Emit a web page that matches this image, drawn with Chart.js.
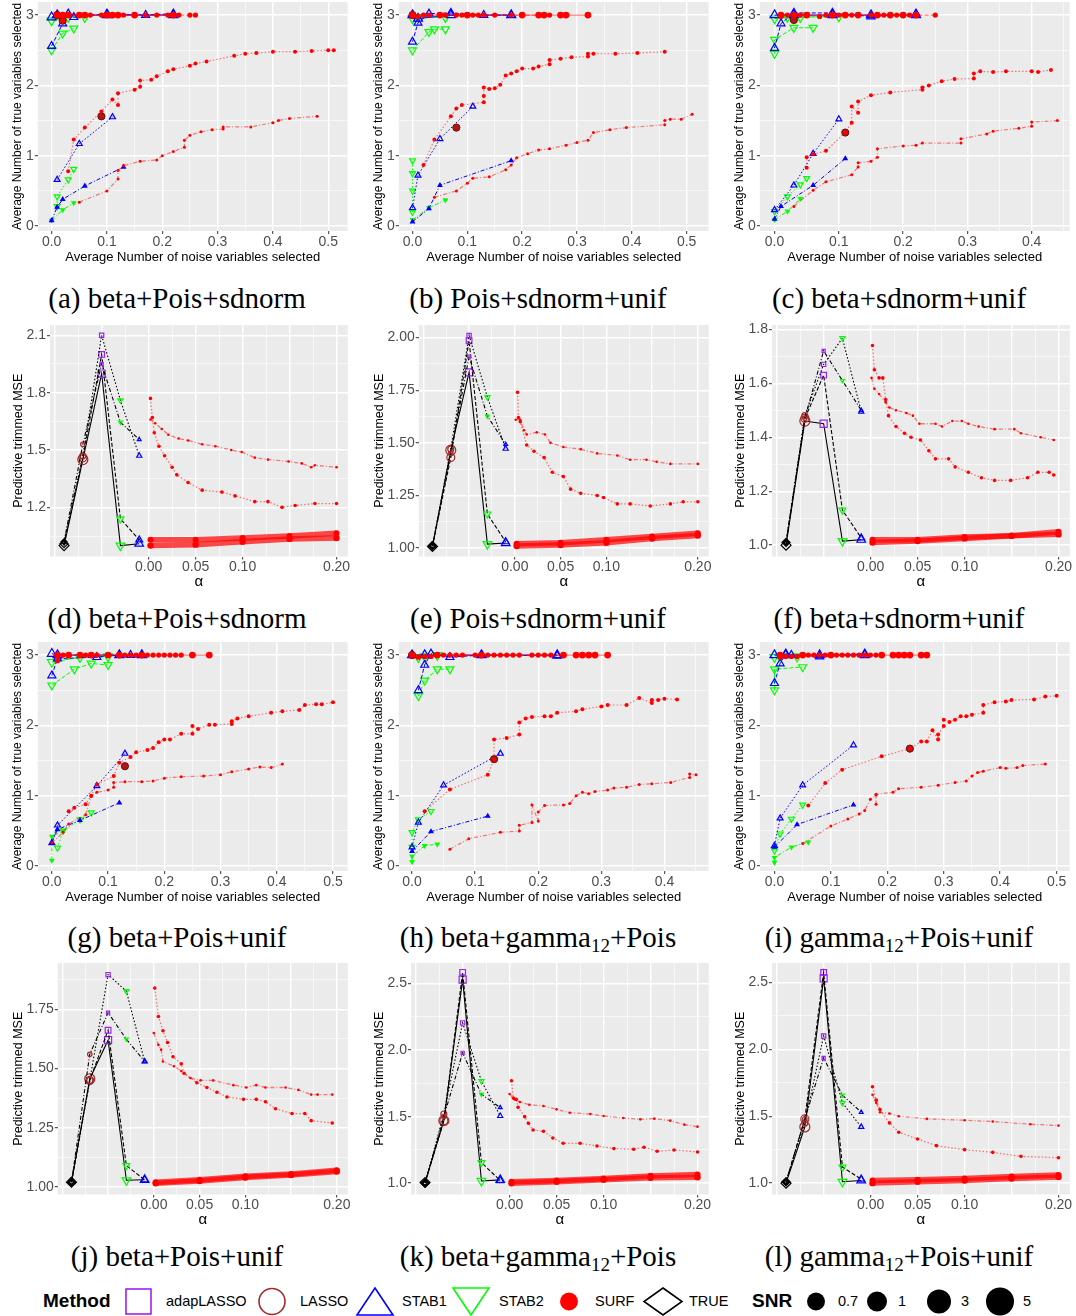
<!DOCTYPE html>
<html>
<head>
<meta charset="utf-8">
<script src="https://cdn.jsdelivr.net/npm/chart.js@4"></script>
<style>
  body { margin: 0; background: #fff; width: 1076px; height: 1316px; position: relative; overflow: hidden;
         font-family: "Liberation Sans", Arial, sans-serif; }
  .panel { position: absolute; width: 354px; height: 271px; }
  .cap { position: absolute; width: 354px; text-align: center; font-family: "Liberation Serif", "Times New Roman", serif;
         font-size: 29px; line-height: 30px; color: #000; }
  .cap sub { font-size: 19px; line-height: 0; vertical-align: -5px; }
  #legend { position: absolute; left: 0; top: 1287px; width: 1076px; height: 29px; }
  #legend span { position: absolute; top: 6px; font-size: 14.5px; line-height: 17px; color: #000; }
  #legend span.head { top: 3px; font-size: 19px; line-height: 22px; font-weight: bold; }
  #legend svg { position: absolute; top: 0; }
</style>
</head>
<body>

<canvas id="pa" class="panel" width="354" height="271" style="left:0;top:-6px"></canvas>
<canvas id="pb" class="panel" width="354" height="271" style="left:361px;top:-6px"></canvas>
<canvas id="pc" class="panel" width="354" height="271" style="left:722px;top:-6px"></canvas>
<div class="cap" style="left:0;top:283px">(a) beta+Pois+sdnorm</div>
<div class="cap" style="left:361px;top:283px">(b) Pois+sdnorm+unif</div>
<div class="cap" style="left:722px;top:283px">(c) beta+sdnorm+unif</div>

<canvas id="pd" class="panel" width="354" height="271" style="left:0;top:317px"></canvas>
<canvas id="pe" class="panel" width="354" height="271" style="left:361px;top:317px"></canvas>
<canvas id="pf" class="panel" width="354" height="271" style="left:722px;top:317px"></canvas>
<div class="cap" style="left:0;top:603px">(d) beta+Pois+sdnorm</div>
<div class="cap" style="left:361px;top:603px">(e) Pois+sdnorm+unif</div>
<div class="cap" style="left:722px;top:603px">(f) beta+sdnorm+unif</div>

<canvas id="pg" class="panel" width="354" height="271" style="left:0;top:634px"></canvas>
<canvas id="ph" class="panel" width="354" height="271" style="left:361px;top:634px"></canvas>
<canvas id="pi" class="panel" width="354" height="271" style="left:722px;top:634px"></canvas>
<div class="cap" style="left:0;top:922px">(g) beta+Pois+unif</div>
<div class="cap" style="left:361px;top:922px">(h) beta+gamma<sub>12</sub>+Pois</div>
<div class="cap" style="left:722px;top:922px">(i) gamma<sub>12</sub>+Pois+unif</div>

<canvas id="pj" class="panel" width="354" height="271" style="left:0;top:955px"></canvas>
<canvas id="pk" class="panel" width="354" height="271" style="left:361px;top:955px"></canvas>
<canvas id="pl" class="panel" width="354" height="271" style="left:722px;top:955px"></canvas>
<div class="cap" style="left:0;top:1241px">(j) beta+Pois+unif</div>
<div class="cap" style="left:361px;top:1241px">(k) beta+gamma<sub>12</sub>+Pois</div>
<div class="cap" style="left:722px;top:1241px">(l) gamma<sub>12</sub>+Pois+unif</div>

<div id="legend">
  <span class="head" style="left:43px">Method</span>
  <svg style="left:124px" width="30" height="29"><rect x="2" y="2" width="25" height="25" fill="none" stroke="#A020F0" stroke-width="1.6"/></svg>
  <span style="left:166px">adapLASSO</span>
  <svg style="left:257px" width="31" height="29"><circle cx="15" cy="14.5" r="13" fill="none" stroke="#A52A2A" stroke-width="1.6"/></svg>
  <span style="left:300px">LASSO</span>
  <svg style="left:355px" width="40" height="29"><polygon points="20,1 38,28 2,28" fill="none" stroke="#0000FF" stroke-width="1.6"/></svg>
  <span style="left:402px">STAB1</span>
  <svg style="left:451px" width="40" height="29"><polygon points="2,1 38,1 20,28" fill="none" stroke="#00FF00" stroke-width="1.6"/></svg>
  <span style="left:499px">STAB2</span>
  <svg style="left:558px" width="22" height="29"><circle cx="11" cy="14.5" r="9" fill="#FF0000"/></svg>
  <span style="left:595px">SURF</span>
  <svg style="left:642px" width="42" height="29"><polygon points="21,1 40,14.5 21,28 2,14.5" fill="none" stroke="#000" stroke-width="1.6"/></svg>
  <span style="left:689px">TRUE</span>
  <span class="head" style="left:752px">SNR</span>
  <svg style="left:805px" width="22" height="29"><circle cx="11" cy="14.5" r="9" fill="#000"/></svg>
  <span style="left:838px">0.7</span>
  <svg style="left:866px" width="22" height="29"><circle cx="11" cy="14.5" r="10" fill="#000"/></svg>
  <span style="left:898px">1</span>
  <svg style="left:926px" width="26" height="29"><circle cx="13" cy="14.5" r="12" fill="#000"/></svg>
  <span style="left:961px">3</span>
  <svg style="left:985px" width="30" height="29"><circle cx="15" cy="14.5" r="14" fill="#000"/></svg>
  <span style="left:1023px">5</span>
</div>

<script>
// ---------- shared categories ----------
const snrLevels = [0.7, 1, 3, 5];
const methodNames = ['TRUE', 'LASSO', 'adapLASSO', 'STAB2', 'STAB1'];
const methodPos = [-0.09, -0.07, -0.05, -0.03, -0.01];

// ---------- tick values / labels ----------
const selYTicks = [0, 1, 2, 3];
const selYLabels = ['0', '1', '2', '3'];
const selYMinor = [0.5, 1.5, 2.5];
const selXTicks = [0, 0.1, 0.2, 0.3, 0.4, 0.5];
const selXLabels = ['0.0', '0.1', '0.2', '0.3', '0.4', '0.5'];
const selXMinor = [0.05, 0.15, 0.25, 0.35, 0.45];

const alphaTicks = [-0.1, -0.05, 0, 0.05, 0.1, 0.15, 0.2];
const alphaLabels = ['', '', '0.00', '0.05', '0.10', '', '0.20'];
const alphaMinor = [-0.075, -0.025, 0.025, 0.075, 0.125, 0.175];

const dYTicks = [1.2, 1.5, 1.8, 2.1];
const dYLabels = ['1.2', '1.5', '1.8', '2.1'];
const dYMinor = [1.05, 1.35, 1.65, 1.95];
const eYTicks = [1, 1.25, 1.5, 1.75, 2];
const eYLabels = ['1.00', '1.25', '1.50', '1.75', '2.00'];
const eYMinor = [1.125, 1.375, 1.625, 1.875];
const fYTicks = [1, 1.2, 1.4, 1.6, 1.8];
const fYLabels = ['1.0', '1.2', '1.4', '1.6', '1.8'];
const fYMinor = [1.1, 1.3, 1.5, 1.7];
const jYTicks = [1, 1.25, 1.5, 1.75];
const jYLabels = ['1.00', '1.25', '1.50', '1.75'];
const jYMinor = [1.125, 1.375, 1.625, 1.875];
const kYTicks = [1, 1.5, 2, 2.5];
const kYLabels = ['1.0', '1.5', '2.0', '2.5'];
const kYMinor = [1.25, 1.75, 2.25];

// ---------- selection panels: [noise, true] per SNR (0.7, 1, 3, 5) ----------
// (a) beta+Pois+sdnorm
const aSurf = [
  [[0.05,0.34],[0.1,0.5],[0.12,0.67],[0.12,0.79],[0.13,0.86],[0.16,0.92],[0.19,0.94],[0.2,1.0],[0.22,1.06],[0.24,1.12],[0.24,1.22],[0.25,1.29],[0.27,1.34],[0.29,1.37],[0.31,1.38],[0.31,1.41],[0.36,1.41],[0.4,1.47],[0.41,1.5],[0.43,1.53],[0.48,1.56]],
  [[0.03,0.78],[0.04,1.23],[0.06,1.4],[0.09,1.63],[0.11,1.8],[0.12,1.72],[0.12,1.89],[0.15,1.94],[0.16,1.98],[0.16,2.07],[0.18,2.08],[0.19,2.13],[0.21,2.2],[0.22,2.23],[0.25,2.28],[0.26,2.31],[0.28,2.34],[0.33,2.42],[0.35,2.45],[0.37,2.46],[0.4,2.48],[0.44,2.48],[0.47,2.49],[0.5,2.5],[0.51,2.5]],
  [[0.02,2.92],[0.03,3],[0.05,3],[0.07,3],[0.09,3],[0.12,3],[0.13,3],[0.15,3],[0.17,3],[0.19,3],[0.21,3],[0.23,3],[0.25,3],[0.26,3]],
  [[0.01,3],[0.02,3],[0.03,3],[0.05,3],[0.06,3],[0.1,3],[0.11,3],[0.12,3],[0.15,3],[0.22,3]]
];
const aStab1 = [
  [[0,0.08],[0.01,0.27],[0.02,0.38],[0.06,0.57],[0.13,0.84]],
  [[0.01,0.66],[0.05,1.17],[0.11,1.55]],
  [[0,2.56],[0.02,2.88],[0.03,3.02],[0.04,2.97],[0.1,3.02],[0.17,3],[0.22,3.02]],
  [[0,2.97],[0.01,3],[0.1,3],[0.22,3]]
];
const aStab2 = [
  [[0,0.08],[0.02,0.23],[0.04,0.33]],
  [[0.01,0.28],[0.01,0.42],[0.03,0.66],[0.04,0.81]],
  [[0,2.5],[0.02,2.74],[0.04,2.81]],
  [[0,2.92],[0.03,2.97],[0.06,2.97]]
];
const aLasso = [[0.09,1.56],[0.01,3],[0.02,2.92]];

// (b) Pois+sdnorm+unif
const bSurf = [
  [[0.04,0.41],[0.08,0.5],[0.1,0.61],[0.11,0.68],[0.14,0.7],[0.17,0.8],[0.18,0.87],[0.19,0.97],[0.21,1.03],[0.23,1.08],[0.25,1.1],[0.28,1.15],[0.3,1.19],[0.32,1.22],[0.33,1.33],[0.36,1.37],[0.39,1.4],[0.46,1.44],[0.46,1.5],[0.47,1.52],[0.49,1.52],[0.51,1.59]],
  [[0.02,0.87],[0.04,1.23],[0.07,1.56],[0.08,1.67],[0.09,1.72],[0.13,1.76],[0.13,1.85],[0.13,1.97],[0.14,1.95],[0.15,1.96],[0.16,2.01],[0.17,2.14],[0.18,2.17],[0.19,2.2],[0.2,2.24],[0.22,2.24],[0.23,2.27],[0.25,2.3],[0.25,2.36],[0.27,2.38],[0.29,2.4],[0.32,2.41],[0.32,2.45],[0.33,2.45],[0.37,2.45],[0.41,2.46],[0.46,2.48]],
  [[0.01,2.98],[0.02,3],[0.03,3],[0.05,3],[0.06,3],[0.08,3],[0.09,3],[0.1,3],[0.11,3],[0.12,3],[0.13,3],[0.15,3],[0.18,3],[0.2,3],[0.23,3],[0.25,3]],
  [[0,3],[0.05,3],[0.1,3],[0.2,3],[0.23,3],[0.24,3],[0.27,3],[0.28,3],[0.32,3]]
];
const bStab1 = [
  [[0,0.06],[0.03,0.25],[0.05,0.58],[0.18,0.93]],
  [[0,0.26],[0.01,0.72],[0.05,1.24],[0.11,1.7]],
  [[0,2.62],[0.01,2.89],[0.03,3.02],[0.07,3.03],[0.13,3],[0.18,3]],
  [[0,3],[0.01,2.95],[0.07,3],[0.18,3]]
];
const bStab2 = [
  [[0,0.09],[0.03,0.26],[0.06,0.37]],
  [[0,0.2],[0,0.5],[0,0.75],[0,0.93]],
  [[0,2.5],[0.03,2.76],[0.04,2.8],[0.06,2.8]],
  [[0,2.95],[0.01,2.97],[0.06,2.97]]
];
const bLasso = [[0.08,1.4],[0,3]];

// (c) beta+sdnorm+unif
const cSurf = [
  [[0.03,0.28],[0.06,0.51],[0.08,0.63],[0.12,0.73],[0.13,0.84],[0.13,0.9],[0.15,0.92],[0.16,0.98],[0.16,1.1],[0.2,1.14],[0.22,1.15],[0.23,1.18],[0.29,1.18],[0.29,1.24],[0.33,1.31],[0.34,1.35],[0.38,1.39],[0.4,1.42],[0.4,1.48],[0.44,1.5]],
  [[0.05,0.83],[0.05,0.98],[0.06,1.02],[0.08,1.07],[0.11,1.33],[0.12,1.47],[0.12,1.7],[0.13,1.61],[0.13,1.77],[0.15,1.86],[0.18,1.9],[0.23,1.94],[0.23,1.97],[0.24,2.0],[0.26,2.06],[0.28,2.09],[0.31,2.1],[0.31,2.17],[0.32,2.2],[0.34,2.19],[0.36,2.2],[0.4,2.2],[0.41,2.19],[0.43,2.22]],
  [[0.01,2.98],[0.02,3],[0.04,3],[0.05,3],[0.07,2.98],[0.08,3],[0.1,3],[0.12,3],[0.13,3],[0.15,3],[0.17,3],[0.19,3],[0.21,3],[0.25,3]],
  [[0.01,3],[0.03,3],[0.05,3],[0.09,3],[0.11,3],[0.13,3],[0.16,3],[0.18,3],[0.2,3],[0.22,3]]
];
const cStab1 = [
  [[0,0.1],[0.01,0.28],[0.06,0.58],[0.11,0.96]],
  [[0,0.23],[0.03,0.58],[0.06,1.03],[0.1,1.52]],
  [[0,2.53],[0.01,2.88],[0.03,3.03],[0.09,3.03],[0.15,2.98],[0.22,3.02]],
  [[0,3],[0.03,3],[0.09,3],[0.15,3],[0.22,3]]
];
const cStab2 = [
  [[0,0.09],[0.02,0.21],[0.04,0.39]],
  [[0,0.21],[0.02,0.42],[0.04,0.59],[0.05,0.68]],
  [[0,2.45],[0,2.65],[0.03,2.82],[0.06,2.82]],
  [[0,2.95],[0.02,2.97],[0.04,2.97],[0.1,2.98]]
];
const cLasso = [[0.11,1.33],[0.03,2.93]];

// (g) beta+Pois+unif
const gSurf = [
  [[0,0.33],[0.02,0.48],[0.03,0.6],[0.06,0.73],[0.07,0.99],[0.08,1.05],[0.1,1.08],[0.11,1.12],[0.11,1.19],[0.13,1.2],[0.16,1.2],[0.18,1.21],[0.2,1.25],[0.23,1.27],[0.27,1.28],[0.3,1.3],[0.32,1.34],[0.35,1.38],[0.37,1.41],[0.39,1.4],[0.41,1.45]],
  [[0.03,0.78],[0.04,0.83],[0.06,0.88],[0.07,1.0],[0.08,1.16],[0.11,1.28],[0.12,1.47],[0.14,1.55],[0.15,1.62],[0.17,1.65],[0.18,1.68],[0.19,1.76],[0.2,1.8],[0.21,1.8],[0.23,1.88],[0.25,1.88],[0.25,1.99],[0.26,1.95],[0.28,2.01],[0.29,2.01],[0.32,2.02],[0.32,2.06],[0.33,2.1],[0.35,2.13],[0.39,2.18],[0.41,2.2],[0.44,2.22],[0.45,2.29],[0.47,2.3],[0.48,2.3],[0.5,2.33]],
  [[0.01,2.92],[0.02,3],[0.03,3],[0.05,3],[0.06,3],[0.08,3],[0.1,3],[0.12,3],[0.13,3],[0.14,3],[0.15,3],[0.16,3],[0.17,3],[0.18,3],[0.19,3],[0.2,3],[0.21,3],[0.22,3],[0.23,3]],
  [[0.01,3],[0.03,3],[0.05,3],[0.07,3],[0.1,3],[0.12,3],[0.16,3],[0.25,3],[0.28,3]]
];
const gStab1 = [
  [[0,0.33],[0.01,0.52],[0.05,0.65],[0.12,0.9]],
  [[0,0.33],[0.01,0.58],[0.08,1.14],[0.13,1.6]],
  [[0,2.71],[0.01,2.95],[0.08,2.97],[0.12,3],[0.14,3],[0.16,3]],
  [[0,3.02],[0.01,3],[0.12,3],[0.16,3]]
];
const gStab2 = [
  [[0,0.08],[0,0.42],[0.02,0.5]],
  [[0.01,0.26],[0.02,0.5],[0.05,0.66],[0.07,0.76]],
  [[0,2.57],[0.04,2.8],[0.07,2.88],[0.1,2.86]],
  [[0,2.9],[0.05,2.97],[0.1,2.98]]
];
const gLasso = [[0.13,1.42]];

// (h) beta+gamma12+Pois
const hSurf = [
  [[0.06,0.24],[0.09,0.39],[0.14,0.48],[0.17,0.5],[0.17,0.58],[0.19,0.62],[0.19,0.87],[0.2,0.64],[0.2,0.77],[0.21,0.86],[0.24,0.87],[0.25,0.89],[0.26,1.0],[0.27,1.05],[0.28,1.03],[0.29,1.06],[0.31,1.08],[0.32,1.11],[0.34,1.12],[0.36,1.16],[0.38,1.17],[0.41,1.19],[0.44,1.26],[0.44,1.31],[0.45,1.3]],
  [[0.02,0.78],[0.06,1.09],[0.12,1.3],[0.13,1.52],[0.13,1.8],[0.15,1.82],[0.17,1.87],[0.17,2.04],[0.18,2.1],[0.19,2.12],[0.21,2.13],[0.22,2.13],[0.23,2.18],[0.26,2.2],[0.27,2.23],[0.3,2.27],[0.31,2.29],[0.34,2.29],[0.36,2.39],[0.38,2.32],[0.38,2.36],[0.39,2.36],[0.4,2.38],[0.42,2.37]],
  [[0.01,2.97],[0.02,2.98],[0.03,2.98],[0.04,3],[0.05,3],[0.06,3],[0.07,3],[0.08,3],[0.1,3],[0.12,3],[0.13,3],[0.14,3],[0.15,3],[0.16,3],[0.17,3],[0.19,3],[0.2,3],[0.21,3],[0.22,3],[0.24,3]],
  [[0,3],[0.04,3],[0.11,3],[0.24,3],[0.26,3],[0.27,3],[0.28,3],[0.29,3],[0.31,3]]
];
const hStab1 = [
  [[0,0.21],[0.03,0.49],[0.12,0.71]],
  [[0,0.27],[0.01,0.62],[0.05,1.15],[0.14,1.6]],
  [[0.01,2.5],[0.02,2.86],[0.03,3.02],[0.06,2.97],[0.11,3],[0.23,2.99]],
  [[0,3],[0.02,3],[0.11,3],[0.23,3]]
];
const hStab2 = [
  [[0,0.06],[0,0.14],[0.02,0.29],[0.04,0.31]],
  [[0,0.27],[0,0.48],[0.01,0.66],[0.03,0.78]],
  [[0.01,2.42],[0.02,2.64],[0.04,2.8],[0.06,2.8]],
  [[0.01,2.97],[0.02,2.98],[0.04,3]]
];
const hLasso = [[0.13,1.52],[0,3]];

// (i) gamma12+Pois+unif
const iSurf = [
  [[0.05,0.32],[0.1,0.57],[0.13,0.67],[0.15,0.74],[0.16,0.79],[0.17,0.95],[0.18,1.01],[0.18,0.88],[0.18,1.02],[0.21,1.05],[0.22,1.1],[0.26,1.12],[0.29,1.15],[0.32,1.19],[0.34,1.21],[0.35,1.28],[0.36,1.33],[0.37,1.35],[0.4,1.4],[0.41,1.39],[0.43,1.4],[0.44,1.43],[0.48,1.45]],
  [[0.06,0.86],[0.09,1.18],[0.12,1.37],[0.19,1.56],[0.24,1.67],[0.26,1.77],[0.27,1.77],[0.28,1.93],[0.29,1.8],[0.29,1.87],[0.3,1.99],[0.3,2.08],[0.31,2.05],[0.32,2.08],[0.33,2.13],[0.34,2.13],[0.35,2.15],[0.37,2.18],[0.37,2.29],[0.39,2.33],[0.41,2.34],[0.42,2.36],[0.46,2.37],[0.48,2.41],[0.5,2.42]],
  [[0.01,2.97],[0.02,2.98],[0.03,2.98],[0.04,2.98],[0.06,3],[0.07,3],[0.08,3],[0.09,3],[0.1,3],[0.11,3],[0.12,3],[0.13,3],[0.14,3],[0.15,3],[0.16,3],[0.17,3],[0.18,3]],
  [[0.01,3],[0.05,3],[0.1,3],[0.19,3],[0.21,3],[0.22,3],[0.23,3],[0.24,3],[0.26,3],[0.27,3]]
];
const iStab1 = [
  [[0,0.27],[0.04,0.59],[0.14,0.87]],
  [[0,0.29],[0.01,0.68],[0.05,1.15],[0.14,1.72]],
  [[0,2.6],[0.01,2.88],[0.02,3.02],[0.03,3],[0.08,2.98],[0.16,3.02]],
  [[0,3],[0.02,3],[0.08,3],[0.16,3]]
];
const iStab2 = [
  [[0,0.05],[0,0.12],[0.03,0.27],[0.06,0.34]],
  [[0,0.22],[0.01,0.46],[0.03,0.67],[0.05,0.87]],
  [[0,2.5],[0,2.8],[0.05,2.83]],
  [[0,2.97],[0.01,2.98],[0.04,2.98]]
];
const iLasso = [[0.24,1.67]];

// ---------- MSE panels: per SNR, MSE for TRUE, LASSO, adapLASSO, STAB2, STAB1 ----------
const dMse = [[1.02,1.53,1.95,1.645,1.555],[1.02,1.47,2.1,1.76,1.47],[1.01,1.46,2.0,1.14,1.03],[1.0,1.45,1.9,1.0,1.01]];
const dSurf = [
  [[0.002,1.66],[0.007,1.64],[0.014,1.61],[0.021,1.58],[0.032,1.56],[0.042,1.55],[0.057,1.53],[0.071,1.52],[0.088,1.5],[0.099,1.49],[0.113,1.46],[0.127,1.45],[0.149,1.44],[0.163,1.43],[0.173,1.41],[0.177,1.42],[0.2,1.41]],
  [[0.002,1.77],[0.004,1.67],[0.006,1.59],[0.011,1.52],[0.017,1.47],[0.025,1.41],[0.03,1.37],[0.042,1.33],[0.057,1.29],[0.078,1.28],[0.092,1.26],[0.113,1.23],[0.127,1.23],[0.142,1.2],[0.156,1.21],[0.177,1.22],[0.2,1.22]],
  [[0.002,1.03],[0.05,1.03],[0.1,1.04],[0.15,1.05],[0.2,1.065]],
  [[0.002,1.0],[0.05,1.005],[0.1,1.02],[0.15,1.035],[0.2,1.04]]
];
const eMse = [[1.01,1.45,1.91,1.627,1.493],[1.01,1.47,2.01,1.717,1.472],[1.01,1.43,1.985,1.162,1.03],[1.008,1.465,1.835,1.019,1.024]];
const eSurf = [
  [[0.001,1.61],[0.006,1.61],[0.01,1.56],[0.013,1.54],[0.024,1.55],[0.033,1.54],[0.039,1.5],[0.053,1.48],[0.072,1.47],[0.09,1.45],[0.112,1.44],[0.126,1.42],[0.144,1.42],[0.155,1.41],[0.17,1.4],[0.2,1.4]],
  [[0.003,1.74],[0.004,1.62],[0.006,1.6],[0.013,1.49],[0.021,1.46],[0.032,1.43],[0.041,1.36],[0.053,1.34],[0.061,1.28],[0.072,1.26],[0.09,1.25],[0.097,1.24],[0.112,1.21],[0.126,1.21],[0.148,1.2],[0.17,1.21],[0.184,1.22],[0.2,1.22]],
  [[0.002,1.02],[0.05,1.025],[0.1,1.04],[0.15,1.055],[0.2,1.07]],
  [[0.002,1.01],[0.05,1.015],[0.1,1.025],[0.15,1.045],[0.2,1.06]]
];
const fMse = [[1.01,1.47,1.72,1.61,1.5],[1.01,1.48,1.67,1.767,1.495],[1.01,1.47,1.63,1.13,1.027],[1.0,1.46,1.45,1.015,1.02]];
const fSurf = [
  [[0.001,1.62],[0.004,1.58],[0.009,1.56],[0.016,1.53],[0.02,1.51],[0.027,1.5],[0.038,1.49],[0.045,1.48],[0.052,1.45],[0.069,1.45],[0.076,1.44],[0.087,1.46],[0.097,1.46],[0.104,1.45],[0.115,1.44],[0.132,1.43],[0.153,1.43],[0.16,1.415],[0.181,1.4],[0.195,1.39]],
  [[0.002,1.74],[0.004,1.65],[0.009,1.62],[0.013,1.62],[0.016,1.54],[0.019,1.48],[0.027,1.44],[0.036,1.415],[0.043,1.4],[0.053,1.39],[0.062,1.35],[0.069,1.32],[0.083,1.32],[0.09,1.29],[0.104,1.27],[0.118,1.25],[0.132,1.24],[0.149,1.24],[0.167,1.25],[0.178,1.27],[0.19,1.27],[0.195,1.26]],
  [[0.002,1.02],[0.05,1.02],[0.1,1.03],[0.15,1.035],[0.2,1.05]],
  [[0.002,1.01],[0.05,1.015],[0.1,1.025],[0.15,1.035],[0.2,1.04]]
];
const jMse = [[1.02,1.56,1.736,1.624,1.53],[1.02,1.45,1.897,1.827,1.53],[1.02,1.45,1.662,1.09,1.03],[1.02,1.457,1.62,1.028,1.03]];
const jSurf = [
  [[0.0,1.65],[0.005,1.6],[0.008,1.58],[0.01,1.53],[0.022,1.51],[0.03,1.49],[0.04,1.46],[0.051,1.45],[0.065,1.45],[0.087,1.43],[0.101,1.42],[0.112,1.43],[0.122,1.42],[0.144,1.42],[0.158,1.41],[0.172,1.39],[0.179,1.39],[0.195,1.39]],
  [[0.001,1.84],[0.005,1.72],[0.01,1.66],[0.015,1.61],[0.021,1.55],[0.03,1.52],[0.033,1.48],[0.047,1.44],[0.058,1.42],[0.069,1.4],[0.08,1.38],[0.098,1.37],[0.112,1.37],[0.122,1.36],[0.133,1.33],[0.151,1.31],[0.165,1.31],[0.172,1.28],[0.195,1.27]],
  [[0.002,1.02],[0.05,1.03],[0.1,1.045],[0.15,1.055],[0.2,1.07]],
  [[0.002,1.015],[0.05,1.025],[0.1,1.04],[0.15,1.05],[0.2,1.065]]
];
const kMse = [[1.0,1.5,1.98,1.668,1.568],[1.0,1.52,2.205,1.768,1.505],[1.0,1.47,2.585,1.155,1.02],[1.005,1.47,2.53,1.017,1.025]];
const kSurf = [
  [[0.0,1.67],[0.005,1.63],[0.011,1.61],[0.021,1.59],[0.036,1.58],[0.05,1.555],[0.064,1.53],[0.086,1.52],[0.1,1.505],[0.121,1.49],[0.139,1.48],[0.154,1.485],[0.171,1.47],[0.186,1.44],[0.2,1.425]],
  [[0.002,1.77],[0.004,1.64],[0.007,1.63],[0.009,1.57],[0.016,1.5],[0.02,1.45],[0.025,1.4],[0.036,1.39],[0.046,1.34],[0.057,1.3],[0.075,1.3],[0.093,1.28],[0.111,1.26],[0.132,1.255],[0.143,1.27],[0.157,1.24],[0.175,1.25],[0.2,1.235]],
  [[0.002,1.01],[0.05,1.02],[0.1,1.035],[0.15,1.055],[0.2,1.065]],
  [[0.002,1.0],[0.05,1.01],[0.1,1.025],[0.15,1.04],[0.2,1.045]]
];
const lMse = [[1.01,1.48,1.935,1.657,1.53],[1.01,1.45,2.1,1.6,1.42],[1.01,1.48,2.575,1.12,1.03],[1.0,1.42,2.53,1.01,1.02]];
const lSurf = [
  [[0.002,1.66],[0.006,1.6],[0.01,1.53],[0.02,1.52],[0.03,1.5],[0.06,1.48],[0.1,1.47],[0.13,1.46],[0.17,1.44],[0.2,1.43]],
  [[0.002,1.72],[0.006,1.62],[0.01,1.55],[0.02,1.45],[0.03,1.38],[0.05,1.33],[0.07,1.28],[0.1,1.25],[0.13,1.23],[0.16,1.2],[0.2,1.19]],
  [[0.002,1.02],[0.05,1.025],[0.1,1.035],[0.15,1.05],[0.2,1.06]],
  [[0.002,1.0],[0.05,1.01],[0.1,1.02],[0.15,1.035],[0.2,1.045]]
];

// ---------- styling ----------
const snrDash = [[4, 2, 1, 2], [1.5, 2], [4, 2], []];
const surfRadius = [1.5, 2, 2.6, 3.4];
const triRadius = [2.2, 3.4, 4.6, 5.2];
const mseSurfRadius = [1.3, 1.8, 3, 3.2];
const mseMarkRadius = [2.2, 3, 4, 5];
const methodColor = ['#000000', '#A52A2A', '#A020F0', '#00FF00', '#0000FF'];
const methodShape = ['rectRot', 'circle', 'rect', 'triangle', 'triangle'];
const methodRot = [0, 0, 0, 180, 0];

Chart.defaults.font.family = '"Liberation Sans", Arial, sans-serif';

// grey panel background behind the grid
const panelBg = {
  id: 'panelBg',
  beforeDraw(chart) {
    const { ctx, chartArea: a } = chart;
    ctx.save();
    ctx.fillStyle = '#EBEBEB';
    ctx.fillRect(a.left, a.top, a.right - a.left, a.bottom - a.top);
    ctx.restore();
  }
};

const toXY = pts => pts.map(p => ({ x: p[0], y: p[1] }));

function makeAxis(min, max, major, labels, minor, title, titleSize, titleLine) {
  const near = (p, q) => Math.abs(p - q) < 1e-9;
  const labelOf = v => {
    const k = major.findIndex(m => near(m, v));
    return k >= 0 ? labels[k] : '';
  };
  const isMajor = v => major.some(m => near(m, v));
  const all = major.concat(minor).filter(v => v >= min && v <= max).sort((p, q) => p - q);
  return {
    type: 'linear', min, max,
    afterBuildTicks: axis => { axis.ticks = all.map(v => ({ value: v })); },
    ticks: {
      autoSkip: false, maxRotation: 0, minRotation: 0, padding: 1,
      color: '#4D4D4D', font: { size: 14, lineHeight: 1 },
      callback: v => labelOf(v)
    },
    grid: {
      color: '#FFFFFF',
      lineWidth: c => (isMajor(c.tick.value) ? 1.4 : 0.6),
      tickLength: 3, tickWidth: 1,
      tickColor: c => (labelOf(c.tick.value) ? '#333333' : 'rgba(0,0,0,0)')
    },
    border: { display: false },
    title: { display: true, text: title, color: '#000', font: { size: titleSize, lineHeight: titleLine || 1 }, padding: { top: 1, bottom: 1 } }
  };
}

function baseOptions(xAxis, yAxis) {
  return {
    responsive: false, animation: false,
    layout: { padding: { left: 11, right: 4, top: 0, bottom: 0 } },
    plugins: { legend: { display: false }, tooltip: { enabled: false } },
    scales: { x: xAxis, y: yAxis }
  };
}

function methodSeries(pts, color, rotation, i) {
  return {
    data: toXY(pts), showLine: true, borderColor: color, borderWidth: 1, borderDash: snrDash[i],
    pointStyle: 'triangle', pointRotation: rotation, pointRadius: triRadius[i],
    pointBackgroundColor: i === 0 ? color : 'rgba(0,0,0,0)', pointBorderColor: color, pointBorderWidth: 1.2
  };
}

function selectionPanel(id, surf, stab1, stab2, lasso, xMin, xMax) {
  const datasets = [];
  surf.forEach((s, i) => datasets.push({
    data: toXY(s), showLine: true, borderColor: 'rgba(255,0,0,0.5)', borderWidth: 1.2, borderDash: snrDash[i],
    pointRadius: surfRadius[i], pointBackgroundColor: '#FF0000', pointBorderWidth: 0
  }));
  datasets.push({
    data: toXY(lasso), showLine: false, pointRadius: 3.6,
    pointBackgroundColor: '#B01818', pointBorderColor: '#6E0E0E', pointBorderWidth: 1
  });
  stab1.forEach((s, i) => datasets.push(methodSeries(s, '#0000FF', 0, i)));
  stab2.forEach((s, i) => datasets.push(methodSeries(s, '#00FF00', 180, i)));

  new Chart(document.getElementById(id), {
    type: 'scatter',
    data: { datasets },
    options: baseOptions(
      makeAxis(xMin, xMax, selXTicks, selXLabels, selXMinor, 'Average Number of noise variables selected', 13),
      makeAxis(-0.07, 3.186, selYTicks, selYLabels, selYMinor, 'Average Number of true variables selected', 12)
    ),
    plugins: [panelBg]
  });
}

function msePanel(id, mse, surf, yMin, yMax, yTicks, yLabels, yMinor) {
  const datasets = [];
  mse.forEach((vals, i) => datasets.push({
    data: methodPos.map((x, k) => ({ x, y: vals[k] })), showLine: true,
    borderColor: '#000000', borderWidth: 1.1, borderDash: snrDash[i],
    pointStyle: methodShape, pointRotation: methodRot, pointRadius: mseMarkRadius[i],
    pointBorderColor: methodColor, pointBackgroundColor: 'rgba(0,0,0,0)', pointBorderWidth: 1.2
  }));
  surf.forEach((s, i) => datasets.push({
    data: toXY(s), showLine: true,
    borderColor: i < 2 ? 'rgba(255,0,0,0.5)' : 'rgba(255,0,0,0.7)', borderWidth: i < 2 ? 1.3 : 5.5,
    borderDash: i < 2 ? snrDash[i] : [],
    pointRadius: mseSurfRadius[i], pointBackgroundColor: '#FF0000', pointBorderWidth: 0
  }));

  new Chart(document.getElementById(id), {
    type: 'scatter',
    data: { datasets },
    options: baseOptions(
      makeAxis(-0.105, 0.212, alphaTicks, alphaLabels, alphaMinor, 'α', 15, 0.7),
      makeAxis(yMin, yMax, yTicks, yLabels, yMinor, 'Predictive trimmed MSE', 12.5)
    ),
    plugins: [panelBg]
  });
}

// selection rows
selectionPanel('pa', aSurf, aStab1, aStab2, aLasso, -0.025, 0.535);
selectionPanel('pb', bSurf, bStab1, bStab2, bLasso, -0.025, 0.54);
selectionPanel('pc', cSurf, cStab1, cStab2, cLasso, -0.023, 0.459);
selectionPanel('pg', gSurf, gStab1, gStab2, gLasso, -0.025, 0.526);
selectionPanel('ph', hSurf, hStab1, hStab2, hLasso, -0.021, 0.47);
selectionPanel('pi', iSurf, iStab1, iStab2, iLasso, -0.026, 0.523);

// MSE rows
msePanel('pd', dMse, dSurf, 0.943, 2.154, dYTicks, dYLabels, dYMinor);
msePanel('pe', eMse, eSurf, 0.96, 2.06, eYTicks, eYLabels, eYMinor);
msePanel('pf', fMse, fSurf, 0.958, 1.816, fYTicks, fYLabels, fYMinor);
msePanel('pj', jMse, jSurf, 0.968, 1.946, jYTicks, jYLabels, jYMinor);
msePanel('pk', kMse, kSurf, 0.915, 2.655, kYTicks, kYLabels, kYMinor);
msePanel('pl', lMse, lSurf, 0.915, 2.645, kYTicks, kYLabels, kYMinor);
</script>
</body>
</html>
